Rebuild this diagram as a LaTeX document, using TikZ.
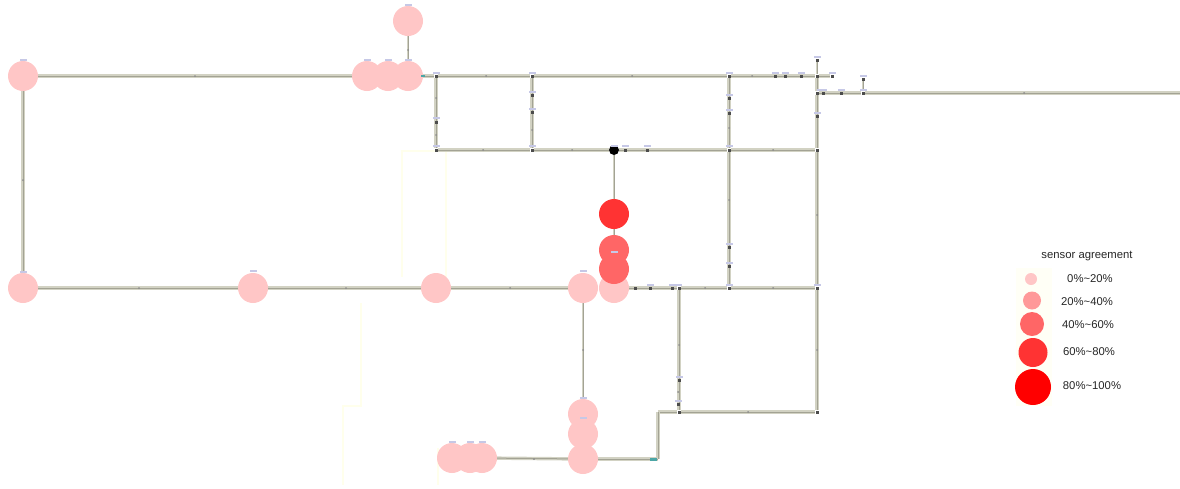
\documentclass[tikz,border=0pt]{standalone}
\usepackage{fontspec}
\setmainfont{Liberation Sans}
\usetikzlibrary{backgrounds}
\definecolor{pipecol}{HTML}{D2D2C3}
\definecolor{corecol}{HTML}{A3A394}
\definecolor{haze}{HTML}{FFFFEC}
\definecolor{tagcol}{HTML}{C6C8E6}
\definecolor{levela}{HTML}{FFC6C6}
\definecolor{levelb}{HTML}{FF9999}
\definecolor{levelc}{HTML}{FF6666}
\definecolor{leveld}{HTML}{FF3333}
\definecolor{levele}{HTML}{FF0000}
\tikzset{
  pipe/.style={draw=pipecol,line width=3.4pt,line cap=butt,postaction={draw=corecol,line width=1pt}},
  thinpipe/.style={draw=pipecol,line width=2.6pt,postaction={draw=corecol,line width=0.9pt}},
  hazeline/.style={draw=haze,line width=1.2pt},
  sensor/.style={circle,fill=#1,inner sep=0pt,minimum size=30pt},
  joint/.style={rectangle,fill=black!70,inner sep=0pt,minimum size=3pt},
  tick/.style={circle,fill=black!45,inner sep=0pt,minimum size=2pt},
  tag/.style={rectangle,fill=tagcol,inner sep=0pt,minimum width=7pt,minimum height=2.4pt},
  legdot/.style={circle,fill=#1,inner sep=0pt},
  legtext/.style={font=\fontsize{11.3}{13}\selectfont,text=black!85,inner sep=0pt,anchor=center}
}
\begin{document}
\begin{tikzpicture}[x=1pt,y=-1pt]
\useasboundingbox (0,0) rectangle (1180,488);
% faint outlines and legend backing
\fill[haze!50] (1016,268) rectangle (1052,406);
\draw[hazeline] (446,152) -- (446,277) (402,277) -- (402,151) -- (436,151);
\draw[hazeline] (361,303) -- (361,406) -- (343,406) -- (343,485);
\draw[hazeline] (438,448) -- (438,485);
% sensors
\foreach \n/\x/\y/\c in {s1/408/21/levela,s2/367/76/levela,s3/388/76/levela,s4/408/76/levela,
  s5/23/76/levela,s6/23/288/levela,s7/253/288/levela,s8/436/288/levela,s9/583/288/levela,
  s10/614/288/levela,s11/614/269/levelc,s12/614/250/levelc,s13/614/214/leveld,
  s14/583/459/levela,s15/583/434/levela,s16/583/414/levela,
  s17/482/458/levela,s18/470/458/levela,s19/452/458/levela}
  \node[sensor=\c] (\n) at (\x,\y) {};
% named joints
\foreach \n/\x/\y in {a/436/76,b/532/76,c/729/76,d/817/76,e/817/60,f/817/93,g/863/93,h/863/79,
  i/436/150,k/532/150,m/729/150,n/817/150,o/729/288,p/817/288,q/679/288,r/679/412,t/817/412,u/832/76}
  \node[joint] (\n) at (\x,\y) {};
\node[circle,fill=black,inner sep=0pt,minimum size=10pt] (hub) at (614,150) {};
\coordinate (farend) at (1180,93);
\coordinate (elbowa) at (658,412);
\coordinate (elbowb) at (658,459);
% further joints
\foreach \x/\y in {775/76,785/76,801/76,823/93,841/93,436/122,532/95,532/112,625/150,647/150,
  729/98,729/113,817/116,729/247,729/266,635/288,650/288,672/288,679/380,678/404}
  \node[joint] at (\x,\y) {};
% ticks on the pipes
\foreach \x/\y in {195/76,486/76,632/76,752/76,436/98,436/135,532/130,483/150,572/150,773/150,
  139/288,346/288,510/288,705/288,773/288,817/215,817/350,1024/93,408/50,729/200,583/350,
  534/459,748/412,679/345,678/392,23/180,729/128}
  \node[tick] at (\x,\y) {};
% small marks above nodes
\foreach \x/\y in {408/5,367/60,388/60,408/60,23/60,23/272,253/271,583/271,614/252,583/398,583/418,
  452/442,470/442,482/442,436/73,532/73,729/73,775/73,785/73,801/73,817/57,832/73,863/76,
  820/90,823/90,841/90,863/90,436/118,532/92,532/109,436/146,532/146,614/146,625/146,647/146,
  729/146,729/95,729/110,729/244,729/263,729/285,817/285,650/285,672/285,678/285,679/377,678/401,817/113}
  \node[tag] at (\x,\y) {};
% teal markers
\fill[teal!70] (421,75) rectangle (425,77);
\fill[teal!70] (650,458) rectangle (657,460.5);
% pipes
\begin{scope}[on background layer]
  \draw[pipe] (s5) -- (s2);
  \draw[pipe] (s4) -- (a);
  \draw[thinpipe] (s1) -- (s4);
  \draw[pipe] (a) -- (b);
  \draw[pipe] (b) -- (c);
  \draw[pipe] (c) -- (d);
  \draw[pipe] (d) -- (u);
  \draw[thinpipe] (e) -- (d);
  \draw[pipe] (d) -- (f);
  \draw[pipe] (f) -- (n);
  \draw[pipe] (n) -- (p);
  \draw[pipe] (p) -- (t);
  \draw[pipe] (f) -- (g);
  \draw[pipe] (g) -- (farend);
  \draw[thinpipe] (g) -- (h);
  \draw[pipe] (a) -- (i);
  \draw[pipe] (b) -- (k);
  \draw[pipe] (c) -- (m);
  \draw[pipe] (m) -- (o);
  \draw[pipe] (i) -- (k);
  \draw[pipe] (k) -- (hub);
  \draw[pipe] (hub) -- (m);
  \draw[pipe] (m) -- (n);
  \draw[thinpipe] (hub) -- (s13);
  \draw[thinpipe] (s13) -- (s12);
  \draw[pipe] (s5) -- (s6);
  \draw[pipe] (s6) -- (s7);
  \draw[pipe] (s7) -- (s8);
  \draw[pipe] (s8) -- (s9);
  \draw[pipe] (s10) -- (q);
  \draw[pipe] (q) -- (o);
  \draw[pipe] (o) -- (p);
  \draw[pipe] (q) -- (r);
  \draw[pipe] (elbowa) -- (r);
  \draw[pipe] (r) -- (t);
  \draw[pipe] (elbowa) -- (elbowb);
  \draw[pipe] (elbowb) -- (s14);
  \draw[pipe] (s14) -- (s17);
  \draw[thinpipe] (s9) -- (s16);
\end{scope}
% legend
\node[legtext] (legtitle) at (1087,256) {sensor agreement};
\node[legdot=levela,minimum size=12pt] (la) at (1031,279) {};
\node[legdot=levelb,minimum size=18pt] (lb) at (1032,300.5) {};
\node[legdot=levelc,minimum size=24pt] (lc) at (1032,324) {};
\node[legdot=leveld,minimum size=29pt] (ld) at (1033,352.5) {};
\node[legdot=levele,minimum size=36pt] (le) at (1033,387) {};
\node[legtext] (ta) at (1090,279) {0\%\textasciitilde 20\%};
\node[legtext] (tb) at (1087,302) {20\%\textasciitilde 40\%};
\node[legtext] (tc) at (1088,325) {40\%\textasciitilde 60\%};
\node[legtext] (td) at (1089,352) {60\%\textasciitilde 80\%};
\node[legtext] (te) at (1092,386) {80\%\textasciitilde 100\%};
\end{tikzpicture}
\end{document}
